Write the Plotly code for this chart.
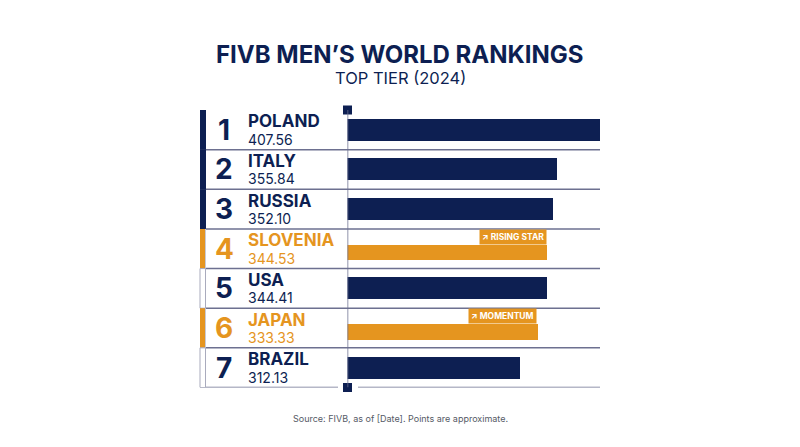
import plotly.graph_objects as go

# ---- data ----
ranks = [1, 2, 3, 4, 5, 6, 7]
countries = ["POLAND", "ITALY", "RUSSIA", "SLOVENIA", "USA", "JAPAN", "BRAZIL"]
points = [407.56, 355.84, 352.10, 344.53, 344.41, 333.33, 312.13]
highlight = [False, False, False, True, False, True, False]
badges = ["", "", "", "↗ RISING STAR", "", "↗ MOMENTUM", ""]
title = "FIVB MEN’S WORLD RANKINGS"
subtitle = "TOP TIER (2024)"
source = "Source: FIVB, as of [Date]. Points are approximate."
axis_base = 110

NAVY = "#0d1f52"
ORANGE = "#e5951f"
GRID = "#6d7090"
FONT = "Inter, 'Noto Sans', sans-serif"

W, H = 800, 447
OFF = 8  # page body margin
def px(x):
    return (x - OFF) / W
def py(y):
    return 1 - (y - OFF) / H

fig = go.Figure()

navy_r = [r for r, h in zip(ranks, highlight) if not h]
navy_v = [v for v, h in zip(points, highlight) if not h]
or_r = [r for r, h in zip(ranks, highlight) if h]
or_v = [v for v, h in zip(points, highlight) if h]

fig.add_trace(go.Bar(y=navy_r, x=navy_v, orientation="h", marker=dict(color=NAVY, line=dict(width=0)),
                     width=0.555, hoverinfo="skip", showlegend=False))
fig.add_trace(go.Bar(y=or_r, x=or_v, orientation="h", marker=dict(color=ORANGE, line=dict(width=0)),
                     width=0.395, offset=-0.105, hoverinfo="skip", showlegend=False))

shapes = []
for r in ranks[:-1]:
    shapes.append(dict(type="line", xref="paper", yref="y", x0=px(200), x1=px(600), y0=r + 0.5, y1=r + 0.5,
                       line=dict(color=GRID, width=1.5), layer="below"))
last = ranks[-1] + 0.5
shapes.append(dict(type="line", xref="paper", yref="y", x0=px(200), x1=px(338), y0=last, y1=last,
                   line=dict(color=GRID, width=1.5)))
shapes.append(dict(type="line", xref="paper", yref="y", x0=px(358), x1=px(600), y0=last, y1=last,
                   line=dict(color=GRID, width=1.5)))
shapes.append(dict(type="line", xref="x", yref="y", x0=axis_base, x1=axis_base, y0=ranks[0] - 0.5, y1=last,
                   line=dict(color=GRID, width=1.5)))
for i, r in enumerate(ranks):
    if highlight[i]:
        shapes.append(dict(type="rect", xref="paper", yref="y", x0=px(200), x1=px(205), y0=r - 0.5, y1=r + 0.5,
                           fillcolor=ORANGE, line=dict(width=0)))
        shapes.append(dict(type="line", xref="paper", yref="y", x0=px(205.5), x1=px(205.5), y0=r - 0.5, y1=r + 0.5,
                           line=dict(color="#c8cad6", width=1)))
    elif r <= 3:
        shapes.append(dict(type="rect", xref="paper", yref="y", x0=px(200), x1=px(206), y0=r - 0.5, y1=r + 0.5,
                           fillcolor=NAVY, line=dict(width=0)))
    else:
        shapes.append(dict(type="rect", xref="paper", yref="y", x0=px(200), x1=px(205.5), y0=r - 0.5, y1=r + 0.5,
                           fillcolor="white", line=dict(color="#a9abbd", width=1)))

fig.add_trace(go.Scatter(x=[axis_base, axis_base], y=[ranks[0] - 0.5, last], mode="markers",
                         marker=dict(symbol="square", size=9, color=NAVY, line=dict(width=0)),
                         cliponaxis=False, hoverinfo="skip", showlegend=False))

ann = []
for i, r in enumerate(ranks):
    col = ORANGE if highlight[i] else NAVY
    ann.append(dict(xref="paper", yref="y", x=px(224), y=r, text=f"<b>{r}</b>", showarrow=False,
                    xanchor="center", yanchor="middle", font=dict(family=FONT, size=28, color=col)))
    ann.append(dict(xref="paper", yref="y", x=px(246), y=r, yshift=8.5, text=f"<b>{countries[i]}</b>", showarrow=False,
                    xanchor="left", yanchor="middle", font=dict(family=FONT, size=17, color=col)))
    ann.append(dict(xref="paper", yref="y", x=px(246), y=r, yshift=-9.5, text=f"{points[i]:.2f}", showarrow=False,
                    xanchor="left", yanchor="middle", font=dict(family=FONT, size=14, color=col)))
    if badges[i]:
        ann.append(dict(xref="x", yref="y", x=points[i], y=r - 0.105, text=f"<b>{badges[i]}</b>", showarrow=False,
                        xanchor="right", yanchor="bottom", bgcolor=ORANGE, borderpad=2,
                        font=dict(family=FONT, size=8.5, color="white")))

ann.append(dict(xref="paper", yref="paper", x=px(400), y=py(54), text=f"<b>{title}</b>", showarrow=False,
                xanchor="center", yanchor="middle", font=dict(family=FONT, size=24, color=NAVY)))
ann.append(dict(xref="paper", yref="paper", x=px(400), y=py(78), text=subtitle, showarrow=False,
                xanchor="center", yanchor="middle", font=dict(family=FONT, size=16.5, color=NAVY)))
ann.append(dict(xref="paper", yref="paper", x=px(400), y=py(418), text=source, showarrow=False,
                xanchor="center", yanchor="middle", font=dict(family=FONT, size=9, color="#555a66")))

fig.update_layout(
    width=W, height=H, margin=dict(l=0, r=0, t=0, b=0),
    paper_bgcolor="white", plot_bgcolor="rgba(0,0,0,0)",
    shapes=shapes, annotations=ann, barmode="overlay", bargap=0,
    xaxis=dict(domain=[px(347.5), px(600)], range=[axis_base, max(points)], visible=False, fixedrange=True),
    yaxis=dict(domain=[py(387.5), py(110)], range=[ranks[-1] + 0.5, ranks[0] - 0.5], visible=False, fixedrange=True),
    showlegend=False,
)

fig.write_html("out.html")
